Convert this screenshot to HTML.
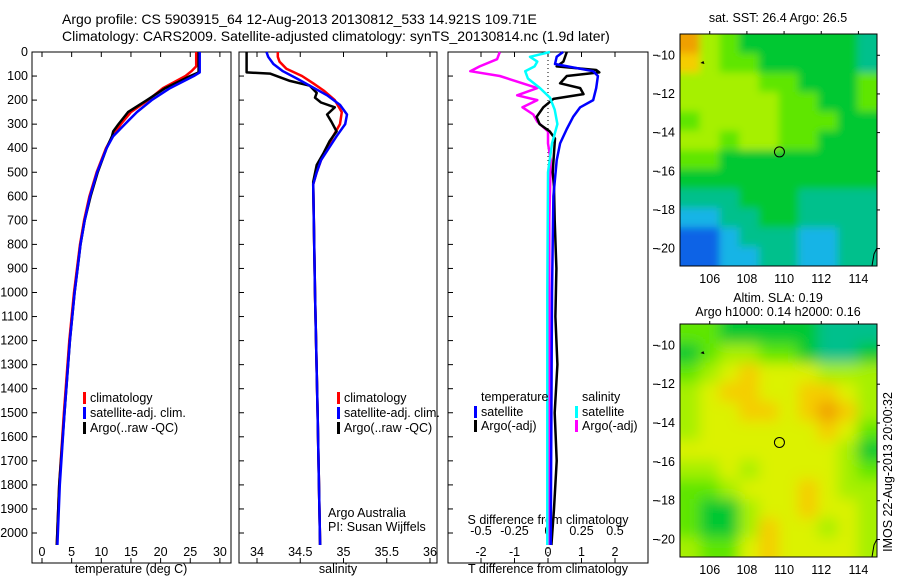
<!DOCTYPE html>
<html><head><meta charset="utf-8">
<style>
body{margin:0;background:#fff}
svg{display:block;font-family:"Liberation Sans",sans-serif;font-size:12.5px}
</style></head>
<body>
<svg id="chart" width="900" height="580" viewBox="0 0 900 580">
<defs>
<filter id="blur" x="0" y="0" width="100%" height="100%"><feGaussianBlur stdDeviation="7"/></filter>
<filter id="blur2" x="0" y="0" width="100%" height="100%"><feGaussianBlur stdDeviation="4"/></filter>
<clipPath id="clipA"><rect x="680" y="34" width="197" height="232"/></clipPath>
<clipPath id="clipB"><rect x="680" y="324" width="197" height="233"/></clipPath>
</defs>
<text x="62" y="24" font-size="14">Argo profile: CS 5903915_64 12-Aug-2013 20130812_533 14.921S 109.71E</text>
<text x="62" y="41" font-size="14">Climatology: CARS2009. Satellite-adjusted climatology: synTS_20130814.nc (1.9d later)</text>
<g id="g"></g>
</svg>
<script>
// ---- data ----
const depthTicks=[0,100,200,300,400,500,600,700,800,900,1000,1100,1200,1300,1400,1500,1600,1700,1800,1900,2000];
const tempTicks=[0,5,10,15,20,25,30];
const salTicks=[34,34.5,35,35.5,36];
const tdTicks=[-2,-1,0,1,2];
const sdTicks=[-0.5,-0.25,0,0.25,0.5];
const sdTickLabels=["-0.5","-0.25","0","0.25","0.5"];

const tClimD=[0,60,80,100,150,200,250,300,350,400,500,600,700,800,900,1000,1200,1500,1800,2050];
const tClimV=[26.0,26.0,25.2,24.2,20.4,17.9,15.0,13.3,11.9,10.8,9.2,8.0,7.1,6.4,5.9,5.4,4.6,3.7,2.9,2.5];
const tSatD=[0,85,100,150,200,250,300,350,400,500,600,700,800,900,1000,1200,1500,1800,2050];
const tSatV=[26.6,26.6,25.6,21.6,18.5,16.0,14.0,12.0,10.9,9.3,8.1,7.2,6.5,6.0,5.5,4.7,3.8,3.0,2.6];
const tArgoD=[0,85,100,150,200,250,300,330,350,400,500,600,700,800,900,1000,1200,1500,1800,2050];
const tArgoV=[26.4,26.4,25.0,20.8,17.7,14.5,12.9,12.0,11.8,10.9,9.4,8.2,7.2,6.5,6.0,5.5,4.7,3.8,2.9,2.5];

const sClimD=[0,20,40,70,100,130,160,200,250,300,350,400,450,500,550,1000,1500,2050];
const sClimV=[34.24,34.24,34.26,34.34,34.52,34.65,34.77,34.90,34.98,34.96,34.88,34.81,34.74,34.69,34.65,34.67,34.70,34.73];
const sSatD=[0,20,50,80,110,140,180,220,260,300,350,400,450,500,550,1000,1500,2050];
const sSatV=[34.11,34.13,34.19,34.30,34.46,34.61,34.81,34.96,35.04,35.02,34.92,34.83,34.74,34.69,34.65,34.67,34.70,34.73];
const sArgoD=[0,85,90,120,140,170,190,210,230,260,290,330,370,420,470,540,1000,1500,2050];
const sArgoV=[33.88,33.88,34.15,34.38,34.61,34.69,34.67,34.74,34.90,34.81,34.86,34.92,34.84,34.77,34.69,34.65,34.67,34.70,34.73];

const dtSatD=[0,20,50,80,100,150,200,230,270,320,380,450,600,1000,1500,2050];
const dtSatV=[0.45,0.26,0.21,1.35,1.49,1.44,1.35,0.96,0.75,0.56,0.36,0.26,0.16,0.12,0.1,0.08];
const dtArgoD=[0,40,60,75,85,100,130,150,175,195,230,270,300,330,360,420,500,560,700,900,1100,1300,1500,1700,1900,2050];
const dtArgoV=[0.56,0.46,0.26,1.44,1.53,0.56,0.36,0.96,1.06,0.16,-0.14,-0.34,-0.25,0.05,0.21,0.18,0.14,0.18,0.2,0.25,0.22,0.28,0.2,0.26,0.18,0.1];
const dsSatD=[0,20,40,60,80,110,150,190,240,300,380,500,1000,2050];
const dsSatV=[0.015,-0.134,-0.08,-0.1,-0.17,-0.15,-0.06,0.015,0.05,0.07,0.03,0.0,-0.005,-0.005];
const dsArgoD=[0,30,60,80,100,130,150,180,200,230,260,290,330,380,450,700,1000,1500,2050];
const dsArgoV=[-0.36,-0.38,-0.51,-0.58,-0.36,-0.19,-0.08,-0.23,-0.08,-0.19,-0.11,-0.08,0.0,0.0,0.02,0.01,0.01,0.01,0.01];

const lonTicks=[106,108,110,112,114];
const latTicks=[-10,-12,-14,-16,-18,-20];
const sstGrid=[
[8,5,4,3,3,3,3,3,3,2],[7,5,4,4,3,3,3,3,3,2],[5,5,5,5,4,4,3,3,3,4],[5,5,5,5,5,4,4,3,3,4],
[4,5,5,5,5,4,4,4,3,3],[5,5,4,5,5,4,4,3,3,3],[4,4,3,3,3,3,3,3,3,3],[3,3,3,3,3,3,3,3,3,3],
[2,2,2,3,3,3,2,2,2,2],[1,1,2,2,3,3,2,2,2,2],[0,0,1,2,2,2,1,1,2,2],[0,0,1,1,2,2,1,1,2,2]];
const slaGrid=[
[4,4,3,3,3,3,3,2,2,2],[3,4,5,5,4,4,3,2,2,3],[4,5,6,7,6,6,6,5,5,5],[5,6,7,7,6,6,7,7,6,5],
[5,6,6,7,7,6,7,8,7,5],[5,6,6,6,6,6,6,7,6,4],[6,6,6,6,6,6,6,6,5,3],[5,5,6,5,6,6,6,6,5,4],
[4,4,5,6,6,6,7,6,5,5],[4,3,3,5,6,6,7,6,6,5],[4,3,3,5,7,6,6,5,6,5],[5,4,4,6,7,6,6,6,6,5]];
const palette=["#0a64e6","#14b4e6","#00c08c","#00c832","#5ee600","#a6f000","#dcf200","#f5cd00","#f0a000"];
const argoLon=109.75, argoLat=-15;

// ---- scales ----
const NS="http://www.w3.org/2000/svg";
const g=document.getElementById('g');
function el(t,a,p){const e=document.createElementNS(NS,t);for(const k in a)e.setAttribute(k,a[k]);(p||g).appendChild(e);return e;}
const top0=52, ppd=0.2405, bot=563;
const yD=d=>top0+d*ppd;
const xT=v=>42+v*5.93;
const xS=v=>257+(v-34)*86.5;
const xDT=v=>548+v*33.5;
const xDS=v=>548+v*134;

function panel(x0,x1,name){
  const r=el('rect',{x:x0,y:top0,width:x1-x0,height:bot-top0,fill:'none',stroke:'#000','stroke-width':1});
  
  
  depthTicks.forEach(d=>{el('line',{x1:x0,x2:x0+5,y1:yD(d),y2:yD(d),stroke:'#000'});});
}
function xticks(vals,f,labels,ly,name){
  vals.forEach((v,i)=>{const x=f(v);
    el('line',{x1:x,x2:x,y1:bot,y2:bot-5,stroke:'#000'});
    el('line',{x1:x,x2:x,y1:top0,y2:top0+5,stroke:'#000'});
    const t=el('text',{x:x,y:ly,'text-anchor':'middle'});t.textContent=labels?labels[i]:String(v);
    
    
  });
}
function line(D,V,f,color,name,w){
  const pts=D.map((d,i)=>f(V[i]).toFixed(1)+','+yD(d).toFixed(1)).join(' ');
  const p=el('polyline',{points:pts,fill:'none',stroke:color,'stroke-width':w||2.5,'stroke-linejoin':'round'});
  
  
}
function txt(x,y,s,name,extra){const t=el('text',Object.assign({x:x,y:y},extra||{}));t.textContent=s;
  
  return t;}
function legend(x,y,color,label,name){
  el('rect',{x:x,y:y-10,width:3,height:12,fill:color});
  txt(x+7,y,label,name);
}

// panel 1
panel(32,231,'temperature-panel');
depthTicks.forEach(d=>{txt(28,yD(d)+4,String(d),'depth-tick-label',{'text-anchor':'end'});});
xticks(tempTicks,xT,null,556,'temperature-tick-label');
txt(131,573,'temperature (deg C)','temperature-axis-title',{'text-anchor':'middle'});
line(tClimD,tClimV,xT,'#f00','temp-climatology-line');
line(tArgoD,tArgoV,xT,'#000','temp-argo-line');
line(tSatD,tSatV,xT,'#00f','temp-satellite-line');
legend(83,402,'#f00','climatology','legend-climatology');
legend(83,417,'#00f','satellite-adj. clim.','legend-satellite');
legend(83,432,'#000','Argo(..raw -QC)','legend-argo');

// panel 2
panel(239,437,'salinity-panel');
xticks(salTicks,xS,null,556,'salinity-tick-label');
txt(338,573,'salinity','salinity-axis-title',{'text-anchor':'middle'});
line(sClimD,sClimV,xS,'#f00','sal-climatology-line');
line(sArgoD,sArgoV,xS,'#000','sal-argo-line');
line(sSatD,sSatV,xS,'#00f','sal-satellite-line');
legend(337,402,'#f00','climatology','legend-climatology-2');
legend(337,417,'#00f','satellite-adj. clim.','legend-satellite-2');
legend(337,432,'#000','Argo(..raw -QC)','legend-argo-2');
txt(328,517,'Argo Australia','credit-line-1');
txt(328,531,'PI: Susan Wijffels','credit-line-2');

// panel 3
panel(448,648,'difference-panel');
el('line',{x1:548,x2:548,y1:top0,y2:bot,stroke:'#000','stroke-dasharray':'1,3'});
xticks(tdTicks,xDT,null,556,'tdiff-tick-label');
sdTicks.forEach((v,i)=>{txt(xDS(v),535,sdTickLabels[i],'sdiff-tick-label',{'text-anchor':'middle'});});
txt(548,524,'S difference from climatology','sdiff-axis-title',{'text-anchor':'middle'});
txt(548,573,'T difference from climatology','tdiff-axis-title',{'text-anchor':'middle'});
line(dsArgoD,dsArgoV,xDS,'#f0f','sal-diff-argo-line');
line(dtArgoD,dtArgoV,xDT,'#000','temp-diff-argo-line');
line(dtSatD,dtSatV,xDT,'#00f','temp-diff-satellite-line');
line(dsSatD,dsSatV,xDS,'#0ff','sal-diff-satellite-line');
txt(481,401,'temperature','legend-temperature-header');
legend(474,416,'#00f','satellite','legend-temp-satellite');
legend(474,430,'#000','Argo(-adj)','legend-temp-argo');
txt(582,401,'salinity','legend-salinity-header');
legend(575,416,'#0ff','satellite','legend-sal-satellite');
legend(575,430,'#f0f','Argo(-adj)','legend-sal-argo');

// maps
function map(y0,grid,clip,name,blur){
  const x0=680,w=197,h=(y0===34?232:233);
  const lonMin=104.4,lonMax=115,latMax=-8.9,latMin=-20.9;
  const xL=l=>x0+(l-lonMin)/(lonMax-lonMin)*w;
  const yL=l=>y0+(latMax-l)/(latMax-latMin)*h;
  const grp=el('g',{'clip-path':'url(#'+clip+')'});
  const inner=el('g',{filter:blur},grp);
  const cw=w/grid[0].length, ch=h/grid.length;
  grid.forEach((row,r)=>row.forEach((c,k)=>{
    el('rect',{x:x0+k*cw-(k===0?12:0),y:y0+r*ch-(r===0?12:0),width:cw+(k===0?12:0)+(k===row.length-1?12:0)+0.5,height:ch+(r===0?12:0)+(r===grid.length-1?12:0)+0.5,fill:palette[c]},inner);
  }));
  const fr=el('rect',{x:x0,y:y0,width:w,height:h,fill:'none',stroke:'#000'});
  
  
  lonTicks.forEach(l=>{const x=xL(l);el('line',{x1:x,x2:x,y1:y0-3,y2:y0,stroke:'#000'});
    txt(x,y0+h+17,String(l),'lon-tick-label',{'text-anchor':'middle'});});
  latTicks.forEach(l=>{const y=yL(l);el('line',{x1:x0+w,x2:x0+w+3,y1:y,y2:y,stroke:'#000'});
    el('line',{x1:653,x2:658,y1:y,y2:y,stroke:'#000'});
    txt(675,y+4,String(l),'lat-tick-label',{'text-anchor':'end'});});
  const c=el('circle',{cx:xL(argoLon),cy:yL(argoLat),r:5,fill:'none',stroke:'#000','stroke-width':1});
  
  
  el('path',{d:`M${xL(105.5)} ${yL(-10.4)}l3 -2l1 3z`,fill:'#000'});
  el('path',{d:`M${x0+w} ${y0+h-18}l-3 6l-2 12`,fill:'none',stroke:'#000'});
}
map(34,sstGrid,'clipA','sst-map','url(#blur2)');
map(324,slaGrid,'clipB','sla-map','url(#blur)');
txt(778,22,'sat. SST: 26.4 Argo: 26.5','sst-map-title',{'text-anchor':'middle'});
txt(778,302,'Altim. SLA: 0.19','sla-map-title',{'text-anchor':'middle'});
txt(778,316,'Argo h1000: 0.14 h2000: 0.16','sla-map-subtitle',{'text-anchor':'middle'});
txt(0,0,'IMOS 22-Aug-2013 20:00:32','timestamp-label',{transform:'translate(892,472) rotate(-90)','text-anchor':'middle'});
</script>
</body></html>
